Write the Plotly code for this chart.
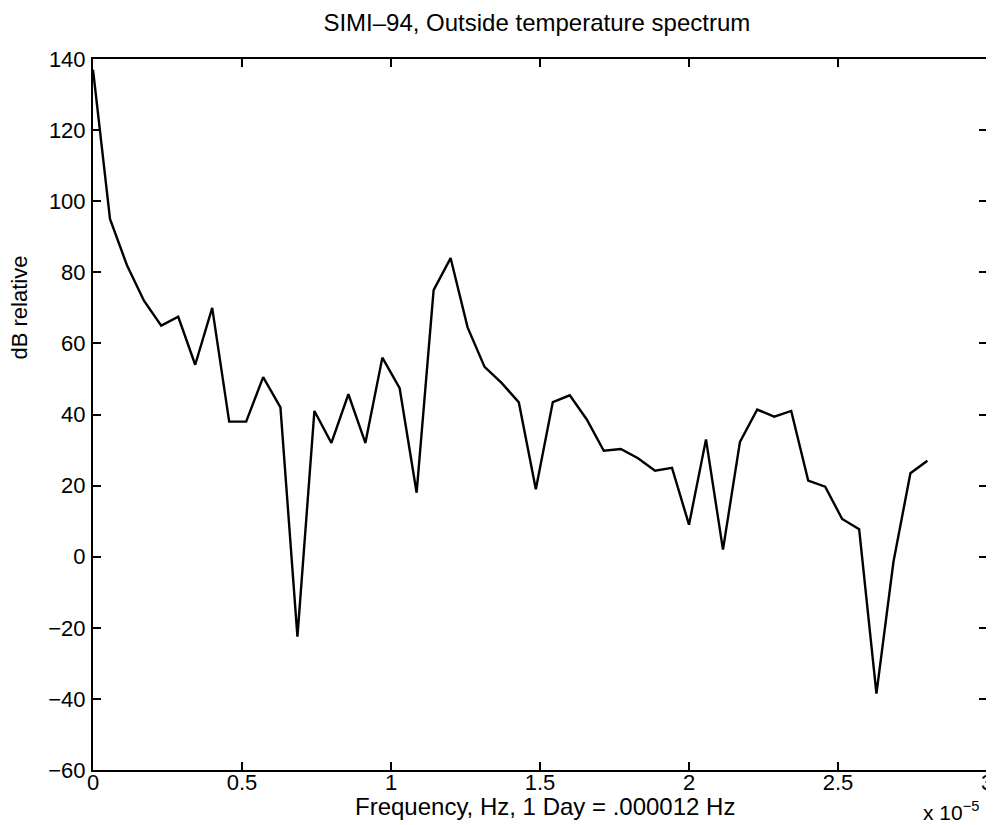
import plotly.graph_objects as go

# Frequency in units of 1e-5 Hz
freq = [0.000, 0.057, 0.114, 0.171, 0.229, 0.286, 0.343, 0.400, 0.457, 0.514,
        0.571, 0.629, 0.686, 0.743, 0.800, 0.857, 0.914, 0.971, 1.029, 1.086,
        1.143, 1.200, 1.257, 1.314, 1.371, 1.429, 1.486, 1.543, 1.600, 1.657,
        1.714, 1.771, 1.829, 1.886, 1.943, 2.000, 2.057, 2.114, 2.171, 2.229,
        2.286, 2.343, 2.400, 2.457, 2.514, 2.571, 2.629, 2.686, 2.743, 2.800]
db_rel = [137, 95, 82, 72, 65, 67.5, 54, 70, 38, 38,
          50.5, 42, -22.5, 41, 32, 45.7, 32, 56, 47.4, 18,
          75, 84, 64.5, 53.4, 48.9, 43.4, 19, 43.5, 45.4, 38.6,
          29.8, 30.3, 27.7, 24.2, 25, 9, 33, 2, 32.3, 41.4,
          39.4, 41, 21.4, 19.7, 10.6, 7.7, -38.5, -1.5, 23.5, 27]

x_ticks = [0, 0.5, 1, 1.5, 2, 2.5, 3]
x_tick_text = ["0", "0.5", "1", "1.5", "2", "2.5", "3"]
y_ticks = [-60, -40, -20, 0, 20, 40, 60, 80, 100, 120, 140]

FONT = "Liberation Sans, Arial, Helvetica, sans-serif"

fig = go.Figure()
fig.add_trace(go.Scatter(x=freq, y=db_rel, mode="lines",
                         line=dict(color="black", width=2.4),
                         showlegend=False, hoverinfo="skip"))

axis_common = dict(showgrid=False, zeroline=False, showline=True, linecolor="black",
                   linewidth=2, mirror="ticks", ticks="inside", ticklen=8,
                   tickwidth=1.5, tickcolor="black",
                   tickfont=dict(family=FONT, size=22, color="black"))

fig.update_xaxes(range=[0, 3], tickvals=x_ticks, ticktext=x_tick_text,
                 ticklabelstandoff=-8, **axis_common)
fig.update_yaxes(range=[-60, 140], tickvals=y_ticks, ticklabelstandoff=1,
                 **axis_common)

fig.update_layout(
    width=994, height=825,
    margin=dict(l=85, r=9, t=51, b=63),
    paper_bgcolor="white", plot_bgcolor="white",
    font=dict(family=FONT, color="black"),
    title=dict(text="SIMI\u201394, Outside temperature spectrum",
               x=0.532, xanchor="center", y=0.982, yanchor="middle",
               font=dict(family=FONT, size=24, color="black")),
    annotations=[
        dict(text="Frequency, Hz, 1 Day = .000012 Hz", xref="paper", yref="paper",
             x=0.506, y=-0.051, xanchor="center", yanchor="middle", showarrow=False,
             font=dict(family=FONT, size=24, color="black")),
        dict(text="dB relative", xref="paper", yref="paper", textangle=-90,
             x=-0.082, y=0.65, xanchor="center", yanchor="middle", showarrow=False,
             font=dict(family=FONT, size=22, color="black")),
        dict(text="x 10<sup>\u22125</sup>", xref="paper", yref="paper",
             x=0.993, y=-0.058, xanchor="right", yanchor="middle", showarrow=False,
             font=dict(family=FONT, size=21, color="black")),
    ],
)

fig.write_html("out.html")
